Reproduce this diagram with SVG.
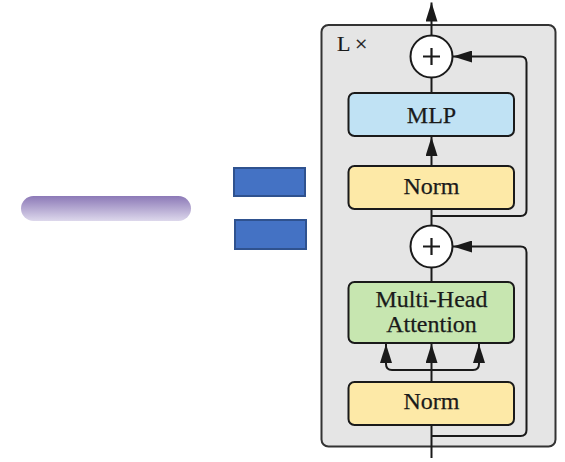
<svg xmlns="http://www.w3.org/2000/svg" width="565" height="462" viewBox="0 0 565 462">
  <defs>
    <linearGradient id="pillFill" x1="0" y1="0" x2="0" y2="1">
      <stop offset="0" stop-color="#8c79b7"/>
      <stop offset="1" stop-color="#ddd8ec"/>
    </linearGradient>
    <marker id="arrow" markerUnits="userSpaceOnUse" markerWidth="20" markerHeight="12" refX="19" refY="6" orient="auto">
      <path d="M0,0 L19,6 L0,12 z" fill="#1a1a1a"/>
    </marker>
    <style>
      .box { stroke: #1a1a1a; stroke-width: 2; }
      .norm { fill: #fde9a7; }
      .mlp { fill: #c0e2f4; }
      .mha { fill: #c7e6b0; }
      .label { font-family: "Liberation Serif", "Times New Roman", serif; font-size: 24px; fill: #1a1a1a; stroke: #1a1a1a; stroke-width: 0.25; text-anchor: middle; }
      .wire { fill: none; stroke: #1a1a1a; stroke-width: 2; }
      .sum circle { fill: #ffffff; stroke: #1a1a1a; stroke-width: 2; }
      .sum path { stroke: #1a1a1a; stroke-width: 2.2; fill: none; }
      .block { fill: #4472c4; stroke: #2f528f; stroke-width: 2; }
    </style>
  </defs>

  <!-- left-hand shapes -->
  <g id="pill">
    <rect x="21" y="196" width="170" height="25" rx="12.5" fill="url(#pillFill)"/>
  </g>
  <g id="equals">
    <rect class="block" x="234" y="168" width="71" height="28"/>
    <rect class="block" x="235" y="220" width="71" height="29"/>
  </g>

  <!-- repeated encoder layer -->
  <g id="layer">
    <rect x="321.5" y="25" width="234" height="421.5" rx="7" fill="#e5e5e5" stroke="#333333" stroke-width="2"/>
    <text x="337" y="51" font-family="'Liberation Serif', 'Times New Roman', serif" font-size="22" fill="#1a1a1a" stroke="#1a1a1a" stroke-width="0.2">L ×</text>
  </g>

  <g id="connectors">
    <path class="wire" d="M431.5,35.5 V2.5" marker-end="url(#arrow)"/>
    <path class="wire" d="M431.5,93 V77.5"/>
    <path class="wire" d="M431.5,166 V137" marker-end="url(#arrow)"/>
    <path class="wire" d="M431.5,209 V225.5"/>
    <path class="wire" d="M431.5,216 H520.5 Q526.5,216 526.5,210 V62.5 Q526.5,56.5 520.5,56.5 H453" marker-end="url(#arrow)"/>
    <path class="wire" d="M431.5,268 V282"/>
    <path class="wire" d="M431.5,382 V344" marker-end="url(#arrow)"/>
    <path class="wire" d="M431.5,370 H392 Q386,370 386,364 V344" marker-end="url(#arrow)"/>
    <path class="wire" d="M431.5,370 H473 Q479,370 479,364 V344" marker-end="url(#arrow)"/>
    <path class="wire" d="M431.5,458 V425"/>
    <path class="wire" d="M431.5,436 H520.5 Q526.5,436 526.5,430 V252.5 Q526.5,246.5 520.5,246.5 H453" marker-end="url(#arrow)"/>
  </g>

  <g id="add-top" class="sum">
    <circle cx="431.5" cy="56.5" r="21"/>
    <path d="M423,56.5 H440 M431.5,48 V65"/>
  </g>

  <g id="mlp">
    <rect class="box mlp" x="348.5" y="93" width="165.5" height="43" rx="6"/>
    <text class="label" x="431.5" y="122.5">MLP</text>
  </g>

  <g id="norm-top">
    <rect class="box norm" x="348.5" y="166" width="165.5" height="43" rx="6"/>
    <text class="label" x="431.5" y="194">Norm</text>
  </g>

  <g id="add-bottom" class="sum">
    <circle cx="431.5" cy="246.5" r="21"/>
    <path d="M423,246.5 H440 M431.5,238 V255"/>
  </g>

  <g id="attention">
    <rect class="box mha" x="348.5" y="282" width="165.5" height="61" rx="6"/>
    <text class="label" x="431.5" y="307">Multi-Head</text>
    <text class="label" x="431.5" y="332">Attention</text>
  </g>

  <g id="norm-bottom">
    <rect class="box norm" x="348.5" y="382" width="165.5" height="43" rx="6"/>
    <text class="label" x="431.5" y="409">Norm</text>
  </g>
</svg>
